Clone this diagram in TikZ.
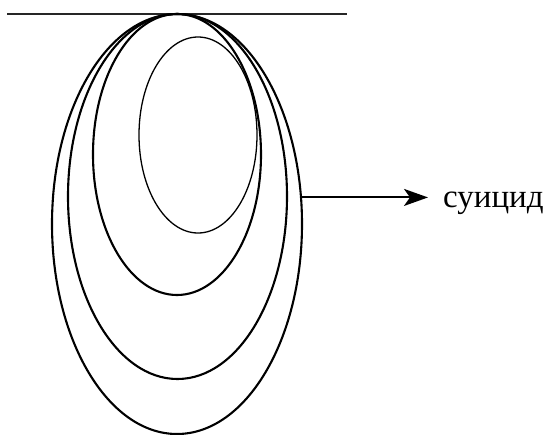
\documentclass[tikz,border=0pt]{standalone}
\usepackage{fontspec}
\setmainfont{Liberation Serif}
\usetikzlibrary{shapes.geometric,arrows.meta}

\begin{document}
\begin{tikzpicture}[x=1pt, y=-1pt,
  oval/.style={draw, ellipse, inner sep=0pt, line width=2.1pt},
  arrow/.style={-{Stealth[length=24pt, width=17pt, inset=6pt]}, line width=2pt},
  tagtext/.style={font=\fontsize{33}{38}\selectfont, inner xsep=15pt, inner ysep=0pt}
]
\useasboundingbox (0,0) rectangle (549,434);

\draw[line width=1.3pt, black!85] (7,14) -- (347,14);

\node[oval, minimum width=250pt, minimum height=420pt] (outer) at (177,224) {};
\node[oval, minimum width=219pt, minimum height=365pt] (wide) at (177.5,196.5) {};
\node[oval, minimum width=168pt, minimum height=281pt] (mid) at (177,154.5) {};
\node[oval, line width=1.3pt, minimum width=118pt, minimum height=196pt] (inner) at (198,135) {};

\node[tagtext, anchor=base west] (suicide) at (428,207) {суицид};

\draw[arrow] (outer.12) -- (outer.12 -| suicide.west);
\end{tikzpicture}
\end{document}
